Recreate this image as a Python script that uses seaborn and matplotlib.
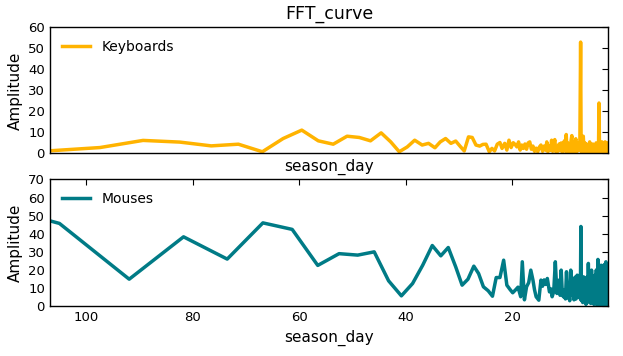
import pandas as pd
import seaborn as sns
import matplotlib.pyplot as plt

plt.rcParams['font.family'] = ['DejaVu Sans']

# period (season_day) and FFT amplitude
kb_day = [107.1, 97.4, 89.3, 82.4, 76.5, 71.4, 66.9, 63.0, 59.5, 56.4, 53.6, 51.0, 48.7, 46.6,
          44.6, 42.8, 41.2, 39.7, 38.3, 36.9, 35.7, 34.5, 33.5, 32.5, 31.5, 30.6, 29.8, 29.0,
          28.2, 27.5, 26.8, 26.1, 25.5, 24.9, 24.3, 23.8, 23.3, 22.8, 22.3, 21.9, 21.4, 21.0,
          20.6, 20.2, 19.8, 19.5, 19.1, 18.8, 18.5, 18.2, 17.9,
          17.6, 17.3, 17.0, 16.7, 16.4, 16.1, 15.8, 15.5, 15.2, 14.9, 14.6, 14.3, 14.0, 13.7,
          13.5, 13.3, 13.0, 12.8, 12.6, 12.4, 12.2, 12.0, 11.8, 11.6, 11.4, 11.2, 11.0, 10.8,
          10.6, 10.4, 10.2, 10.0, 9.85, 9.7, 9.55, 9.4, 9.25, 9.1, 8.95, 8.8, 8.65, 8.5, 8.35,
          8.2, 8.05, 7.9, 7.75, 7.6, 7.45, 7.3, 7.15, 7.05, 6.95, 6.8, 6.65, 6.5, 6.35, 6.2,
          6.05, 5.9, 5.75, 5.6, 5.45, 5.3, 5.15, 5.0, 4.85, 4.7, 4.55, 4.4, 4.25, 4.1, 3.95,
          3.8, 3.7, 3.6, 3.45, 3.3, 3.15, 3.0, 2.85, 2.7, 2.55, 2.4, 2.25, 2.1, 2.0]
kb_amp = [1.2, 2.8, 6.2, 5.4, 3.6, 4.4, 0.8, 7.1, 11.1, 6.0, 4.4, 8.2, 7.6, 6.0,
          9.8, 5.5, 0.8, 3.1, 6.3, 4.0, 4.8, 2.7, 5.5, 7.1, 4.8, 5.9, 3.5, 1.2,
          7.9, 7.6, 4.0, 3.5, 4.3, 4.4, 0.8, 2.4, 1.2, 4.4, 5.2, 2.4, 4.8, 1.6,
          6.3, 2.8, 5.1, 4.4, 3.1, 5.5, 1.6, 4.0, 2.4,
          4.5, 2.0, 5.0, 5.5, 2.0, 3.5, 1.0, 2.5, 0.8, 3.0, 4.0, 1.0, 3.5, 1.5,
          5.5, 0.8, 3.5, 1.5, 6.3, 1.0, 4.0, 6.6, 0.8, 3.0, 1.0, 4.5, 1.5, 5.0,
          0.5, 4.0, 6.0, 1.0, 9.0, 0.5, 5.0, 1.0, 3.5, 0.5, 6.0, 8.5, 0.8, 4.5, 1.0,
          5.0, 7.0, 0.5, 5.0, 1.5, 4.0, 2.0, 53.0, 1.0, 4.0, 0.5, 8.2, 1.0, 5.0, 0.5,
          4.5, 1.0, 3.0, 0.5, 5.5, 1.5, 3.5, 0.5, 4.5, 1.0, 3.5, 0.8, 5.0, 1.0, 4.0,
          0.5, 24.0, 1.0, 4.5, 0.5, 5.5, 1.0, 4.0, 0.5, 5.5, 1.0, 4.5, 0.8, 5.0]

ms_day = [122.5, 105.0, 91.9, 81.7, 73.5, 66.8, 61.3, 56.5, 52.5, 49.0, 45.9, 43.2, 40.8, 38.7,
          36.8, 35.0, 33.4, 32.0, 30.6, 29.4, 28.3, 27.2, 26.3, 25.4, 24.5, 23.7, 23.0, 22.3,
          21.6, 21.0, 20.4, 19.9, 19.3, 18.9, 18.4, 18.1, 17.7, 17.3, 16.9, 16.5, 16.1, 15.8,
          15.5, 15.0, 14.6, 14.3, 14.0, 13.7, 13.4, 13.0, 12.7, 12.5, 12.2, 11.9, 11.6, 11.4,
          11.2, 11.0, 10.8, 10.6, 10.4, 10.2, 10.0, 9.8, 9.6, 9.4, 9.2, 9.0, 8.8, 8.6, 8.4,
          8.2, 8.0, 7.8, 7.6, 7.4, 7.2, 7.1, 7.0, 6.9, 6.75, 6.6, 6.45, 6.3, 6.15, 6.0, 5.85,
          5.7, 5.55, 5.4, 5.25, 5.1, 4.95, 4.8, 4.65, 4.5, 4.35, 4.2, 4.05, 3.9, 3.75, 3.6,
          3.45, 3.3, 3.15, 3.0, 2.85, 2.7, 2.55, 2.4, 2.25, 2.1, 2.0]
ms_amp = [59.7, 45.7, 14.9, 38.3, 26.0, 46.0, 42.4, 22.5, 29.0, 28.2, 30.0, 14.0, 5.7, 12.5,
          22.6, 33.5, 27.8, 32.4, 21.7, 11.6, 14.9, 22.1, 18.0, 10.7, 8.5, 5.5, 15.8, 15.8,
          25.4, 11.6, 9.2, 7.4, 9.2, 10.5, 5.2, 24.5, 3.5, 10.7, 13.0, 19.9, 14.4, 9.0,
          5.2, 3.3, 14.4, 11.0, 14.5, 12.0, 15.3, 7.9, 9.5, 5.2, 8.0, 24.5, 7.0, 11.0,
          14.4, 6.0, 19.9, 8.0, 5.2, 9.0, 4.0, 19.0, 4.5, 12.0, 3.0, 19.9, 6.0, 14.0, 3.5,
          16.0, 4.0, 17.1, 5.0, 17.0, 4.0, 44.0, 3.0, 14.0, 2.0, 16.2, 3.0, 15.0, 1.0, 16.0, 2.0,
          23.6, 3.0, 18.0, 1.5, 19.9, 2.0, 14.0, 1.0, 17.0, 3.0, 20.0, 0.5, 25.8, 2.0, 18.0,
          0.0, 22.6, 1.0, 17.0, 0.5, 23.0, 1.0, 24.5, 0.5, 21.0, 3.0]

kb = pd.DataFrame({'season_day': kb_day, 'Amplitude': kb_amp})
ms = pd.DataFrame({'season_day': ms_day, 'Amplitude': ms_amp})

fig = plt.figure(figsize=(6.23, 3.56), dpi=100)
ax1 = fig.add_axes([0.080, 0.569, 0.896, 0.354])
ax2 = fig.add_axes([0.080, 0.140, 0.896, 0.356])

sns.lineplot(x='season_day', y='Amplitude', data=kb, ax=ax1, color='#FFB300',
             linewidth=2.5, label='Keyboards', sort=False)
sns.lineplot(x='season_day', y='Amplitude', data=ms, ax=ax2, color='#007B86',
             linewidth=2.5, label='Mouses', sort=False)

for ax in (ax1, ax2):
    ax.set_xlim(106.8, 2)
    ax.set_xlabel('season_day', fontsize=11)
    ax.set_ylabel('Amplitude', fontsize=11)
    ax.legend(loc='upper left', frameon=False, fontsize=10, handlelength=2)
    for s in ax.spines.values():
        s.set_color('black')
        s.set_linewidth(1)
    ax.tick_params(direction='in', length=4, labelsize=9.5, left=False, right=True,
                   bottom=False, top=True)

ax1.set_ylim(0, 60)
ax1.set_yticks(range(0, 61, 10))
ax1.set_xticks([])
ax1.set_title('FFT_curve', fontsize=12.5)
ax2.set_ylim(0, 70)
ax2.set_yticks(range(0, 71, 10))
ax2.set_xticks([100, 80, 60, 40, 20])

fig.savefig('out.png', dpi=100)
